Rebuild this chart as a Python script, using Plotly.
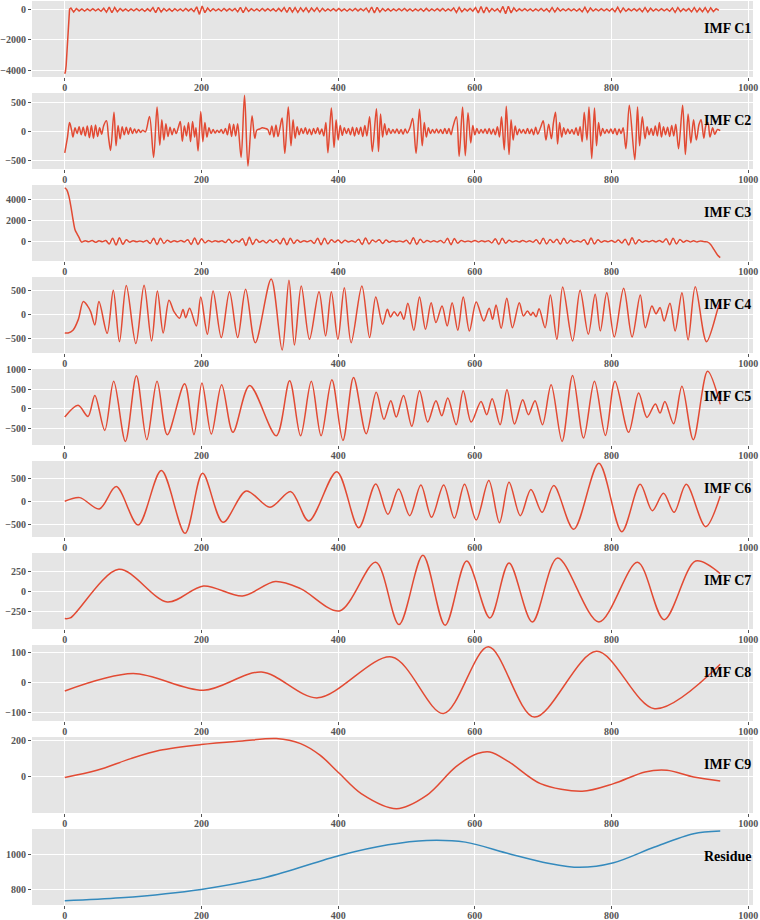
import plotly.graph_objects as go

# ---------------- data ----------------
X_TICKS = [0, 200, 400, 600, 800, 1000]
LABELS = ["IMF C1", "IMF C2", "IMF C3", "IMF C4", "IMF C5",
          "IMF C6", "IMF C7", "IMF C8", "IMF C9", "Residue"]

# IMF C1: initial rise, then noise sampled every 4 samples from x=9
C1_HEAD_X = [0, 1, 2, 3, 4, 5, 6, 7]
C1_HEAD_Y = [-4250, -4100, -3700, -3000, -2000, -1000, -300, 50]
C1_NOISE_X0 = 9
C1_NOISE_STEP = 4
C1_NOISE_Y = [
    120, -140, 90, -70, 60, -80, 70, -60, 80, -70,
    60, -90, 110, -150, 180, -190, 160, -120, 90, -70,
    60, -80, 70, -60, 80, -70, 60, -90, 70, -80,
    150, -180, 170, -130, 90, -80, 70, -90, 80, -60,
    70, -80, 90, -70, 80, -110, 200, -300, 260, -180,
    120, -90, 80, -70, 60, -80, 90, -70, 80, -60,
    90, -120, 170, -180, 150, -100, 80, -70, 60, -80,
    90, -70, 80, -60, 70, -90, 100, -90, 150, -170,
    160, -140, 150, -160, 130, -110, 140, -150, 120, -90,
    140, -130, 100, -80, 70, -60, 80, -70, 90, -70,
    60, -80, 70, -60, 90, -70, 80, -60, 120, -150,
    190, -200, 170, -140, 90, -80, 70, -80, 60, -70,
    80, -60, 90, -70, 60, -80, 70, -60, 80, -90,
    100, -80, 70, -60, 80, -70, 90, -80, 70, -60,
    130, -170, 160, -120, 80, -70, 90, -80, 150, -200,
    220, -210, 180, -140, 90, -80, 70, -150, 230, -250,
    240, -200, 130, -90, 70, -60, 80, -70, 60, -80,
    70, -60, 90, -80, 70, -120, 150, -140, 120, -80,
    70, -60, 80, -70, 60, -80, 70, -130, 170, -160,
    120, -80, 70, -60, 80, -70, 60, -80, 90, -120,
    170, -160, 130, -90, 70, -60, 80, -70, 90, -130,
    150, -140, 110, -80, 70, -60, 80, -70, 60, -90,
    130, -160, 150, -110, 80, -70, 90, -130, 150, -140,
    110, -120, 150, -160, 140, -110, 80, -40,
]

# IMF C2: (sample, value) turning points
C2_POINTS = [
    (0, -370), (4, -100), (7, 150), (10, 20), (12, -100), (15, 60), (18, -40), (21, 80),
    (24, -60), (27, 70), (30, -80), (33, 90), (36, -110), (39, 100), (42, -120), (45, 110),
    (48, -90), (51, 60), (54, -50), (57, 100), (61, 180), (64, -100), (67, -330), (72, 330),
    (75, -250), (78, 100), (81, -130), (84, 80), (87, -60), (90, 70), (93, -50), (96, 60),
    (99, -40), (102, 40), (105, -30), (108, 30), (111, -20), (114, 20), (118, -10),
    (124, 255), (130, -450), (135, 420), (139, -240), (142, 200), (145, -150), (148, 130),
    (151, -90), (154, 70), (157, -60), (160, 50), (163, -40), (166, 60), (169, 170),
    (172, -170), (175, 90), (178, -80), (181, 150), (184, -180), (187, 170), (190, -100),
    (192, 60), (195, -340), (199, 340), (202, -180), (205, 150), (208, -100), (211, 60),
    (214, -40), (217, 30), (220, -30), (223, 20), (226, -20), (229, 30), (232, -40),
    (235, 50), (238, -60), (241, 130), (244, -90), (247, 120), (250, -80), (253, 130),
    (258, -450), (263, 620), (268, -600), (274, 270), (278, -120), (281, 20), (285, 40),
    (289, 60), (293, 50), (297, 30), (300, -60), (303, 90), (306, -100), (309, 110),
    (312, -90), (315, 70), (318, 230), (322, -380), (327, 420), (331, -250), (334, 200),
    (337, -120), (340, 80), (343, -60), (346, 50), (349, -40), (352, 60), (355, -50),
    (358, 40), (361, -60), (364, 50), (367, -40), (370, 60), (373, -50), (376, 40),
    (379, -80), (382, 150), (385, -370), (390, 400), (394, -280), (397, 200), (400, -150),
    (403, 100), (406, -70), (409, 60), (412, -40), (415, 50), (418, -60), (421, 70),
    (424, -80), (427, 60), (430, -50), (433, 70), (436, -90), (439, 100), (442, -80),
    (446, 250), (450, -350), (456, 390), (459, -350), (462, 300), (465, -100), (468, 130),
    (471, -60), (474, 50), (477, -40), (480, 30), (483, -30), (486, 40), (489, -40),
    (492, 30), (495, -50), (498, 40), (501, -30), (505, 60), (509, 220), (514, -380),
    (519, 380), (523, -250), (526, 150), (529, -100), (532, 60), (535, -40), (538, 30),
    (541, -30), (544, 40), (547, -30), (550, 30), (553, -40), (556, 50), (559, -40),
    (562, 50), (565, -60), (568, 80), (573, 250), (577, -430), (582, 420), (586, -420),
    (590, 320), (594, -200), (597, 100), (600, -60), (603, 50), (606, -40), (609, 30),
    (612, -30), (615, 40), (618, -40), (621, 50), (624, -50), (627, 40), (630, -60),
    (633, 80), (636, -100), (639, 250), (643, -320), (646, 430), (650, -400), (653, 200),
    (656, -150), (659, 90), (662, -60), (665, 40), (668, -30), (671, 30), (674, -40),
    (677, 50), (680, -40), (683, 40), (686, -60), (689, 70), (692, -50), (696, 60),
    (700, 180), (704, -150), (708, 120), (712, -130), (715, 150), (718, 330), (721, -220),
    (724, 150), (727, -100), (730, 60), (733, -50), (736, 40), (739, -40), (742, 30),
    (745, -50), (748, 60), (751, -70), (754, 80), (757, -180), (760, 330), (764, -150),
    (767, 420), (771, -470), (775, 400), (778, -250), (781, 150), (784, -80), (787, 50),
    (790, -40), (793, 30), (796, -30), (799, 40), (802, -40), (805, 50), (808, -60),
    (811, 40), (814, -40), (817, 60), (821, -300), (826, 450), (834, -490), (838, 420),
    (841, -250), (845, 250), (849, -130), (852, 80), (855, -60), (858, 50), (861, -70),
    (864, 90), (867, -80), (870, 150), (873, -100), (876, 80), (879, -60), (882, 70),
    (885, -90), (888, 100), (891, -80), (894, 120), (898, -300), (904, 450), (908, -400),
    (912, 300), (916, -200), (920, 200), (924, -150), (928, 120), (931, 200), (935, -120),
    (938, 100), (941, 150), (944, -100), (948, 60), (951, -50), (955, 30), (959, 10),
]

# IMF C3: big initial decay, small oscillations sampled every 5 samples, final drop
C3_HEAD = [(0, 5100), (3, 4900), (6, 4300), (9, 3300), (12, 2100), (15, 1100),
           (18, 700), (21, 350), (23, 50)]
C3_OSC_X0 = 25
C3_OSC_STEP = 5
C3_OSC_Y = [
    -80, 60, -50, 80, -100, 60, -40, 80, -250, 300,
    -350, 330, -280, 150, -80, 60, -50, 40, -60, 80,
    -200, 280, -320, 280, -200, 100, -80, 60, -50, 70,
    -60, 150, -300, 320, -300, 250, -150, 80, -60, 50,
    -40, 60, -120, 200, -150, 80, -60, 250, -400, 380,
    -300, 200, -100, 80, -150, 120, -80, 160, -250, 280,
    -330, 300, -200, 120, -80, 60, -50, 80, -200, 300,
    -320, 300, -250, 150, -80, 120, -150, 100, -60, 50,
    -80, 200, -300, 320, -250, 120, -60, 150, -200, 120,
    -80, 60, -50, 40, -60, 100, -250, 330, -300, 200,
    -120, 80, -60, 50, -70, 80, -150, 280, -320, 260,
    -180, 80, -50, 40, -60, 80, -60, 50, -40, 60,
    -150, 250, -300, 280, -180, 90, -60, 50, -70, 80,
    -60, 50, -80, 150, -250, 300, -250, 180, -120, 200,
    -280, 300, -200, 100, -60, 50, -60, 150, -300, 320,
    -260, 150, -80, 60, -50, 80, -100, 120, -150, 200,
    -350, 330, -250, 150, -80, 60, -50, 70, -60, 80,
    -100, 250, -320, 300, -250, 180, -100, 80, -60, 50,
    -60, 40, -30,
]
C3_TAIL = [(940, -50), (945, -300), (950, -800), (955, -1300), (959, -1550)]

C4_POINTS = [
    (0, -385), (5, -385), (12, -330), (20, -100), (27, 262), (33, 180), (38, 50),
    (44, -220), (50, 262), (62, -393), (71, 496), (80, -565), (90, 593), (104, -606),
    (116, 600), (127, -551), (135.5, 482), (144, -386), (152.5, 289), (160, 50),
    (168, -80), (173, 100), (177, -70), (182.6, 124), (192.5, -241), (199, 358),
    (208.6, -413), (217, 482), (229, -482), (241, 468), (253, -482), (264.6, 517),
    (278.8, -586), (302, 730), (318, -737), (328, 703), (336, -634), (346, 586),
    (358, -517), (372, 468), (381.6, -448), (390, 468), (399.6, -517), (409, 551),
    (419, -586), (434.7, 586), (446, -482), (455, 358), (465, -207), (472, 103),
    (476.6, -55), (482, 55), (487, -35), (491, 55), (496, -103), (502, 227),
    (510.7, -331), (519, 358), (527.8, -310), (536, 241), (543, -172), (552, 172),
    (559.5, -241), (566.8, 241), (575, -331), (583, 358), (592, -345), (602, 255),
    (613, -138), (621, 124), (626, -103), (631, 193), (638.5, -289), (646.7, 331),
    (655, -276), (665, 241), (671, -34), (677, 69), (682, -20), (685, 40),
    (689.6, -50), (694, 117), (702.8, -276), (710.5, 400), (720, -517), (728.5, 565),
    (743, -551), (754, 496), (766, -413), (776, 413), (783.6, -345), (793, 448),
    (804, -469), (817.7, 537), (830, -469), (842, 400), (849.4, -276), (859, 172),
    (865, 10), (871, 138), (877, -138), (885.5, 227), (893, -345), (903, 448),
    (912, -530), (922.5, 572), (939, -565), (957.6, 207), (959, 230),
]

C5_POINTS = [
    (0, -211), (19.5, 85), (34, -195), (44, 338), (58.5, -550), (71.6, 694),
    (88.7, -829), (104.8, 838), (120, -787), (135, 694), (150, -660), (175.4, 635),
    (189, -660), (200.7, 651), (214.4, -643), (229.5, 609), (246, -600), (270.5, 592),
    (309.5, -685), (329, 711), (345, -685), (360.7, 694), (375, -685), (390.8, 736),
    (407, -804), (422.5, 795), (441, -635), (455.7, 415), (467, -270), (477, 200),
    (485, -211), (495.6, 338), (507.8, -448), (519, 457), (531, -338), (543, 203),
    (551.6, -178), (560.4, 271), (572.7, -406), (583, 457), (594.6, -338), (609, 186),
    (617.4, -152), (625.3, 254), (637, -406), (647, 482), (658, -389), (670, 228),
    (678.4, -152), (688, 203), (699, -406), (711.6, 609), (727.6, -829), (743, 846),
    (759, -744), (775, 694), (791, -677), (805, 694), (825, -600), (839.6, 398),
    (851.8, -220), (864, 118), (871, -110), (878, 186), (890.8, -381), (903, 567),
    (919.6, -787), (940.5, 948), (959, 110),
]

C6_POINTS = [
    (0, 0), (22, 80), (50.5, -167), (75.3, 319), (107.3, -515), (141.3, 667),
    (176, -696), (201.6, 609), (231.5, -457), (265.5, 225), (300.3, -131),
    (330.8, 210), (357, -428), (398, 645), (430, -573), (455, 377), (472.8, -283),
    (488.4, 268), (504.7, -312), (521, 355), (536.6, -348), (554.4, 355), (570, -370),
    (584.9, 370), (602, -406), (620.4, 450), (636, -464), (650, 413), (666.5, -312),
    (682, 254), (698.4, -239), (715.5, 341), (744.6, -609), (781.5, 827), (815, -660),
    (841.8, 370), (859.6, -203), (876, 174), (891.5, -239), (909.3, 370),
    (937.6, -551), (959, 116),
]

C7_POINTS = [
    (0, -338), (8, -330), (79, 272), (150, -132), (203, 66), (260, -58), (308, 120),
    (345, 33), (402, -243), (455, 359), (489, -412), (524, 445), (556.5, -421),
    (588, 375), (622, -330), (650, 351), (684, -380), (721, 412), (781.5, -380),
    (838, 359), (877, -351), (923, 375), (959, 219),
]

C8_POINTS = [
    (0, -29), (100, 29), (203, -27), (288, 34), (370, -52), (478.4, 84), (554, -104),
    (619.7, 118), (687, -116), (778, 103), (863, -88), (959, 60),
]

C9_POINTS = [
    (0, -7), (47, 33), (96.6, 98), (139, 144), (199.5, 176), (260, 196), (309.5, 209),
    (345, 181), (373.4, 117), (402, 15), (433.7, -96), (485.5, -180), (529.5, -106),
    (572, 52), (604, 126), (622, 135), (650, 80), (696, -41), (757, -83), (803, -41),
    (849, 24), (881, 33), (920, -4), (959, -26),
]

RESIDUE_POINTS = [
    (0, 737), (82, 754), (199.5, 802), (295, 872), (402, 996), (473, 1057),
    (529.5, 1082), (586, 1072), (650, 1006), (707, 952), (753, 928), (803, 954),
    (863, 1044), (920, 1120), (959, 1135),
]

Y_TICKS = [
    [-4000, -2000, 0], [-500, 0, 500], [0, 2000, 4000], [-500, 0, 500],
    [-500, 0, 500, 1000], [-500, 0, 500], [-250, 0, 250], [-100, 0, 100],
    [0, 200], [800, 1000],
]

# ---------------- assemble series ----------------
c1_x = C1_HEAD_X + [C1_NOISE_X0 + C1_NOISE_STEP * i for i in range(len(C1_NOISE_Y))]
c1_y = C1_HEAD_Y + C1_NOISE_Y

c3_pts = (C3_HEAD
          + [(C3_OSC_X0 + C3_OSC_STEP * i, v) for i, v in enumerate(C3_OSC_Y)]
          + C3_TAIL)


def unzip(pts):
    return [p[0] for p in pts], [p[1] for p in pts]


series = [
    (c1_x, c1_y),
    unzip(C2_POINTS),
    unzip(c3_pts),
    unzip(C4_POINTS),
    unzip(C5_POINTS),
    unzip(C6_POINTS),
    unzip(C7_POINTS),
    unzip(C8_POINTS),
    unzip(C9_POINTS),
    unzip(RESIDUE_POINTS),
]

# ---------------- styling / layout ----------------
RED = "#E24A33"
BLUE = "#348ABD"
Y_RANGES = [
    [-4460, 590], [-650, 660], [-1876, 5362], [-800, 771], [-921, 1008],
    [-776, 876], [-467, 474], [-129, 124], [-204, 218], [713, 1147],
]
SHAPES = ["linear"] + ["spline"] * 9

W, H = 760, 920
M_L, M_R, M_T, M_B = 32, 7, 1, 15
PLOT_H = H - M_T - M_B  # 904
PANEL_H, PITCH = 76, 92

tick_font = dict(family="Liberation Serif, Times New Roman, serif", size=10,
                 color="#555555", weight="bold")

fig = go.Figure()
for i, ((xs, ys), label) in enumerate(zip(series, LABELS)):
    ax = "" if i == 0 else str(i + 1)
    color = BLUE if i == 9 else RED
    fig.add_trace(go.Scatter(
        x=xs, y=ys, mode="lines",
        line=dict(color=color, width=1.5, shape=SHAPES[i], smoothing=0.9),
        xaxis="x" + ax, yaxis="y" + ax, showlegend=False, hoverinfo="skip"))
    top = PITCH * i
    dom = [1 - (top + PANEL_H) / PLOT_H, 1 - top / PLOT_H]
    fig.layout["xaxis" + ax] = dict(
        domain=[0, 1], anchor="y" + ax, range=[-47.95, 1006.95],
        tickvals=X_TICKS, showgrid=True, gridcolor="white", gridwidth=1,
        zeroline=False, showline=False, ticks="outside", ticklen=3,
        tickcolor="#555555", tickfont=tick_font, automargin=False,
        ticklabelstandoff=-2)
    fig.layout["yaxis" + ax] = dict(
        domain=dom, anchor="x" + ax, range=Y_RANGES[i], tickvals=Y_TICKS[i],
        showgrid=True, gridcolor="white", gridwidth=1, zeroline=False,
        showline=False, ticks="outside", ticklen=3, tickcolor="#555555",
        tickfont=tick_font, automargin=False)
    fig.add_annotation(
        text="<b>%s</b>" % label, xref="x" + ax + " domain", yref="y" + ax + " domain",
        x=1, y=0.635, xanchor="right", yanchor="middle", showarrow=False,
        font=dict(family="Liberation Serif, Times New Roman, serif", size=14,
                  color="black"))

fig.update_layout(
    width=W, height=H, margin=dict(l=M_L, r=M_R, t=M_T, b=M_B, autoexpand=False),
    plot_bgcolor="#E5E5E5", paper_bgcolor="white",
)

fig.write_html(
    "out.html",
    config={"displayModeBar": False},
    post_script="document.body.style.margin='0px';document.body.style.padding='0px';",
)
